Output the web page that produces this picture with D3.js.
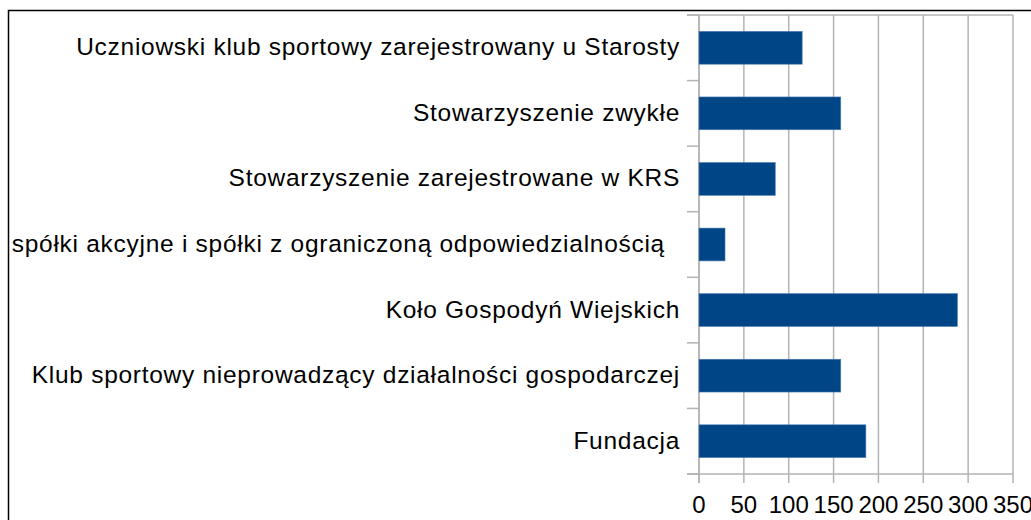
<!DOCTYPE html>
<html><head><meta charset="utf-8">
<script src="https://cdn.jsdelivr.net/npm/d3@7"></script>
<style>body{margin:0;background:#fff}svg{display:block}text{font-family:"Liberation Sans",Arial,sans-serif}.lab{white-space:pre}</style>
</head><body><svg id="c" width="1031" height="520"></svg>
<script>
const categories = ["Uczniowski klub sportowy zarejestrowany u Starosty","Stowarzyszenie zwykłe","Stowarzyszenie zarejestrowane w KRS","spółki akcyjne i spółki z ograniczoną odpowiedzialnością  ","Koło Gospodyń Wiejskich","Klub sportowy nieprowadzący działalności gospodarczej","Fundacja"];
const values = [115, 158, 85, 29, 288, 158, 186];
const xTicks = [0,50,100,150,200,250,300,350];

const svg = d3.select("#c");
svg.append("rect").attr("x",8.5).attr("y",10.5).attr("width",1100).attr("height",600).attr("fill","#fff").attr("stroke","#000").attr("stroke-width",1.5);
const L=699, R=1013, T=15, B=474;
const x = d3.scaleLinear().domain([0,350]).range([L,R]);
const y = d3.scaleBand().domain(categories).range([T,B]).paddingInner(0.5).paddingOuter(0.25);
const g = svg.append("g");
const gc="#b3b3b3";
g.selectAll(".grid").data(xTicks).join("line").attr("x1",d=>x(d)).attr("x2",d=>x(d)).attr("y1",T).attr("y2",B+9).attr("stroke",gc).attr("stroke-width",1.5);
const bounds = d3.range(categories.length+1).map(i=>T+(B-T)*i/categories.length);
g.selectAll(".bd").data(bounds).join("line").attr("x1",L-12).attr("x2",L).attr("y1",d=>d).attr("y2",d=>d).attr("stroke",gc).attr("stroke-width",1.5);
g.append("line").attr("x1",L-12).attr("x2",R).attr("y1",T).attr("y2",T).attr("stroke",gc).attr("stroke-width",1.5);
g.append("line").attr("x1",L-12).attr("x2",R).attr("y1",B).attr("y2",B).attr("stroke",gc).attr("stroke-width",1.5);
g.append("line").attr("x1",L).attr("x2",L).attr("y1",T).attr("y2",B+9).attr("stroke",gc).attr("stroke-width",1.5);
g.selectAll(".bar").data(values).join("rect").attr("x",x(0)).attr("y",(d,i)=>y(categories[i])).attr("width",d=>x(d)-x(0)).attr("height",y.bandwidth()).attr("fill","#004586").attr("stroke","#4a7bb0").attr("stroke-width",0.6);
g.selectAll(".lab").data(categories).join("text").attr("class","lab").attr("x",680).attr("y",d=>y(d)+y.bandwidth()/2+7.5).attr("text-anchor","end").attr("font-size",24.5).attr("letter-spacing","0.72px").attr("fill","#000").text(d=>d);
g.selectAll(".tl").data(xTicks).join("text").attr("x",d=>x(d)).attr("y",513).attr("text-anchor","middle").attr("font-size",24).attr("fill","#000").text(d=>d);
</script></body></html>
